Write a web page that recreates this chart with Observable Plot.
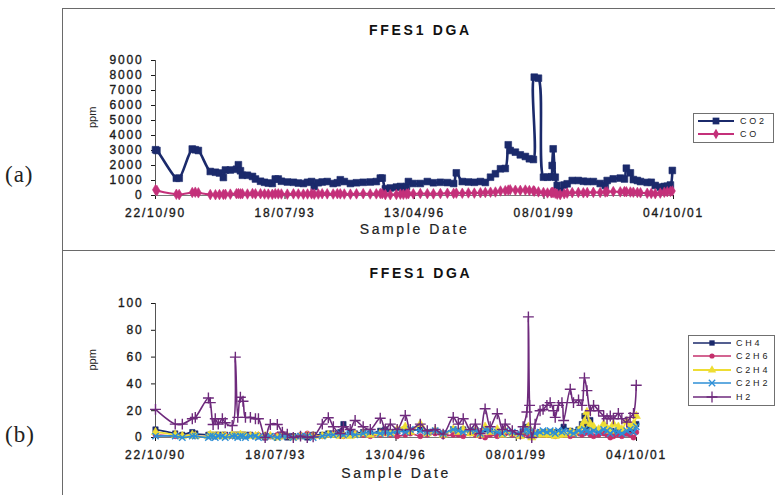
<!DOCTYPE html>
<html><head><meta charset="utf-8">
<script src="https://cdn.jsdelivr.net/npm/d3@7"></script>
<script src="https://cdn.jsdelivr.net/npm/@observablehq/plot@0.6"></script>
<style>
html,body{margin:0;padding:0;background:#fff;}
#page{position:relative;width:775px;height:495px;overflow:hidden;background:#fff;font-family:"Liberation Sans",Arial,sans-serif;}
.chart{position:absolute;left:62px;}
.chart svg{display:block;overflow:visible;}
.chart svg text{letter-spacing:1.8px;paint-order:stroke;stroke:#1a1a1a;stroke-width:0.35px;}
.frameline{position:absolute;background:#6a6a6a;}
.panel{position:absolute;left:5px;font-family:"Liberation Serif","Times New Roman",serif;font-size:23px;color:#222;letter-spacing:1px;line-height:1;}
.legend{position:absolute;border:1px solid #707070;background:#fff;box-sizing:border-box;}
.legend .row{position:absolute;left:0;height:12px;}
.legend .row svg{position:absolute;left:0;top:0;}
.legend .row span{position:absolute;top:0;font-size:9px;line-height:12px;letter-spacing:2.8px;color:#222;}
</style></head><body><div id="page"></div>
<script>
// ---------- data ----------
const axisStart = "1990-10-22", axisEnd = "2001-10-04";
const dateTicks = ["1990-10-22","1993-07-18","1996-04-13","1999-01-08","2001-10-04"];
const co2Ticks = [0,1000,2000,3000,4000,5000,6000,7000,8000,9000];
const gasTicks = [0,20,40,60,80,100];
const chartTitle = "FFES1 DGA";
const xLabel = "Sample Date";
const yLabel = "ppm";

// chart (a): CO2 and CO
const co2Dates = [
 "1990-10-22","1990-11-02","1991-04-01","1991-04-23","1991-08-02","1991-08-25","1991-09-18","1991-12-19","1992-01-28","1992-02-28",
 "1992-03-29","1992-04-14","1992-05-22","1992-07-08","1992-07-23","1992-08-08","1992-08-23","1992-10-01","1992-11-09","1992-12-02",
 "1993-01-10","1993-02-10","1993-03-11","1993-04-11","1993-05-04","1993-05-27","1993-06-20","1993-08-05","1993-09-21","1993-10-29",
 "1993-12-07","1994-01-08","1994-02-08","1994-03-01","1994-04-01","1994-05-01","1994-06-09","1994-07-25","1994-08-26","1994-09-18",
 "1994-10-19","1994-12-05","1995-01-21","1995-03-14","1995-05-07","1995-06-23","1995-07-24","1995-08-08","1995-09-01","1995-10-09",
 "1995-11-25","1995-12-26","1996-01-18","1996-02-11","1996-02-26","1996-04-04","1996-05-28","1996-07-21","1996-09-06","1996-10-30",
 "1996-12-23","1997-02-09","1997-03-02","1997-04-17","1997-06-03","1997-07-19","1997-09-04","1997-10-12","1997-11-21","1997-12-29",
 "1998-02-06","1998-03-15","1998-04-07","1998-04-22","1998-06-01","1998-07-09","1998-08-17","1998-09-17","1998-10-18","1998-10-25",
 "1998-11-26","1999-01-04","1999-02-04","1999-03-05","1999-03-12","1999-03-20","1999-04-05","1999-04-20","1999-05-13","1999-06-13",
 "1999-07-06","1999-08-14","1999-09-30","1999-11-08","1999-12-08","2000-01-24","2000-03-17","2000-04-25","2000-05-10","2000-06-26",
 "2000-08-19","2000-09-20","2000-10-05","2000-11-05","2000-11-28","2000-12-29","2001-01-22","2001-03-15","2001-04-15","2001-05-16",
 "2001-06-24","2001-07-25","2001-08-17","2001-09-10","2001-09-25"];
const co2Values = [
 3050,3000,1150,1150,3100,3050,3000,1600,1550,1500,
 1200,1700,1700,1750,2050,1650,1350,1350,1270,1100,
 950,880,830,800,1100,1100,950,900,880,830,
 800,880,930,600,850,900,930,800,850,1050,
 930,800,850,880,900,930,1160,1160,450,500,
 560,600,450,600,930,800,800,930,850,880,
 860,800,1510,930,900,880,930,870,1220,1450,
 1780,1800,3380,3000,2890,2710,2600,2450,2400,7890,
 7820,1220,1220,1250,2000,3110,1220,670,270,700,
 780,1000,1000,950,930,930,800,670,1000,1110,
 1160,1100,1820,1510,1060,1000,930,870,880,670,
 560,600,620,700,1670];
const coValues = [
 380,330,80,60,200,220,180,60,50,60,
 70,80,90,120,130,110,120,100,130,110,
 120,100,90,80,120,110,100,90,110,100,
 90,100,110,90,100,120,110,100,120,110,
 100,90,110,120,100,110,130,120,60,50,
 70,90,80,100,120,110,130,120,110,130,
 150,140,160,150,170,160,180,200,220,230,
 300,320,360,380,350,340,360,330,310,290,
 240,200,170,180,220,200,150,90,60,120,
 160,190,200,180,190,210,200,230,250,260,
 240,260,250,230,220,200,180,150,140,120,
 160,220,250,270,300];

// chart (b): CH4, C2H6, C2H4, C2H2, H2
const gasDates = [
 "1990-10-22","1991-04-04","1991-06-02","1991-08-24","1991-09-18","1992-01-05","1992-01-21","1992-02-13","1992-03-02","1992-03-27",
 "1992-04-30","1992-05-24","1992-07-21","1992-08-16","1992-09-05","1992-09-27","1992-10-19","1992-11-08","1992-12-19","1993-01-30",
 "1993-02-24","1993-04-21","1993-06-03","1993-07-31","1993-09-11","1993-10-22","1993-12-11","1994-02-09","1994-04-06","1994-05-25",
 "1994-08-09","1994-09-28","1994-11-09","1995-01-06","1995-02-01","1995-03-29","1995-05-09","1995-07-15","1995-09-12","1995-12-04",
 "1996-01-15","1996-02-26","1996-04-23","1996-06-29","1996-08-10","1996-11-01","1996-12-29","1997-03-05","1997-05-10","1997-08-02",
 "1997-09-13","1997-10-24","1997-12-21","1998-02-02","1998-03-14","1998-04-24","1998-06-05","1998-08-03","1998-09-14","1998-10-08",
 "1998-12-06","1999-02-11","1999-03-06","1999-04-06","1999-04-19","1999-04-29","1999-05-17","1999-06-14","1999-07-25","1999-08-19",
 "1999-09-20","1999-10-17","1999-11-14","1999-11-28","1999-12-25","2000-01-23","2000-02-06","2000-04-01","2000-04-28","2000-06-09",
 "2000-07-07","2000-07-28","2000-08-18","2000-09-15","2000-10-12","2000-11-23","2001-01-04","2001-02-01","2001-02-28","2001-03-26",
 "2001-05-06","2001-06-04","2001-07-15","2001-08-12","2001-09-09","2001-10-02"];
const ch4Values = [
 6,3,2,4,3,2,2,1,2,2,
 2,2,2,2,2,2,2,2,2,1,
 1,0,1,1,1,0,1,1,0,2,
 2,3,3,4,10,4,3,4,3,5,
 6,4,5,6,5,6,4,5,3,6,
 5,6,4,5,3,6,5,4,3,4,
 3,2,4,8,6,5,1,3,4,3,
 4,3,4,3,4,5,8,5,4,6,
 10,16,8,13,6,5,4,6,3,5,
 4,5,3,6,5,10];
const c2h6Values = [
 2,1,1,2,1,1,2,1,1,2,
 1,2,1,2,1,2,2,1,2,1,
 2,0,1,2,3,1,0,2,3,2,
 1,2,3,2,1,2,3,2,1,2,
 3,2,1,2,3,1,2,3,1,2,
 2,1,3,2,1,0,2,1,2,3,
 2,1,2,3,2,1,0,2,3,2,
 2,3,2,1,2,3,2,1,2,3,
 2,3,4,2,1,2,3,2,0,1,
 2,1,3,2,0,4];
const c2h4Values = [
 4,2,1,2,1,1,2,1,1,1,
 1,1,2,1,1,2,1,1,1,1,
 1,1,1,0,1,1,0,1,1,1,
 1,2,2,1,2,1,2,3,2,3,
 4,3,6,8,4,10,3,5,2,6,
 4,6,3,5,2,8,4,6,2,5,
 3,1,4,6,8,5,0,2,3,2,
 3,2,3,1,2,3,2,4,3,5,
 8,12,19,10,8,6,10,7,5,10,
 8,6,12,8,10,16];
const c2h2Values = [
 1,1,0,1,1,0,1,1,0,1,
 1,0,1,1,0,1,1,0,1,1,
 0,1,1,0,1,1,0,1,1,0,
 1,2,2,3,2,3,2,3,4,3,
 4,3,5,4,6,5,4,5,3,6,
 5,4,6,5,3,6,5,4,3,5,
 4,3,5,6,5,4,2,3,4,5,
 4,5,4,3,5,4,5,4,3,5,
 4,6,5,4,5,4,6,5,3,5,
 4,3,5,6,4,8];
const h2Values = [
 21,10,10,14,15,29.5,26,9.7,14,10,
 14,11,9,60,15,30,27,15,15,14,
 14,0,9.7,9.7,4,2.5,0,1,0,0.5,
 10,14.7,8,3,8,6,12.7,8,6,14.4,
 6,10,6,16.4,6,10,5,6,2.5,15,
 10,14,6,10,3,21.4,8,17.7,6,10,
 5,2.5,8,19,90,24,0,10,20,21,
 24,26,20,15,24,26,12.7,36,26,28,
 24,44.5,35,20,24,20,16,14,16,14,
 18,14,11.5,15,18,39];

// ---------- styles ----------
const topSeries = [
  {key:"CO2", color:"#1b2a6b", symbol:"square",  r:3.8, lw:2.6},
  {key:"CO",  color:"#c4307a", symbol:"diamond", r:3.2, lw:2}
];
const gasSeries = [
  {key:"CH4",  color:"#1b2a6b", symbol:"square",   r:3,   lw:1.7},
  {key:"C2H6", color:"#c4306c", symbol:"circle",   r:2.6, lw:1.7},
  {key:"C2H4", color:"#eedd33", symbol:"triangle", r:3.1, lw:1.8},
  {key:"C2H2", color:"#2e8fd6", symbol:"times",    r:3,   lw:1.7},
  {key:"H2",   color:"#6e2a7c", symbol:"plus",     r:3.6, lw:1.6}
];

const parse = d3.utcParse("%Y-%m-%d");
const fmt = d3.utcFormat("%d/%m/%y");
const x0 = parse(axisStart), x1 = parse(axisEnd);

const topRows = co2Dates.map((d, i) => ({date: parse(d), CO2: co2Values[i], CO: coValues[i]}));
const gasRows = gasDates.map((d, i) => ({date: parse(d), CH4: ch4Values[i], C2H6: c2h6Values[i],
  C2H4: c2h4Values[i], C2H2: c2h2Values[i], H2: h2Values[i]}));

const stroked = s => s === "plus" || s === "times";

function makeChart({rows, series, yTicks, width, height, ml, mr, mt, mb, titleDx, labelDy}) {
  const marks = [
    Plot.ruleY([0], {stroke: "#7a7a7a", strokeWidth: 1}),
    Plot.ruleX([x0], {stroke: "#555", strokeWidth: 1})
  ];
  for (const s of series) {
    marks.push(Plot.line(rows, {x: "date", y: s.key, stroke: s.color, strokeWidth: s.lw, curve: "catmull-rom"}));
    marks.push(Plot.dot(rows, Object.assign({x: "date", y: s.key, symbol: s.symbol, r: s.r},
      stroked(s.symbol) ? {stroke: s.color, strokeWidth: 1.4, fill: "none"} : {fill: s.color, stroke: s.color, strokeWidth: 0.6})));
  }
  marks.push(Plot.text([chartTitle], {text: d => d, frameAnchor: "top", dy: -35, dx: titleDx, fontWeight: "bold", fontSize: 14, fill: "#111"}));
  marks.push(Plot.text([yLabel], {text: d => d, frameAnchor: "left", dx: -63, rotate: -90, fontSize: 11, fill: "#222"}));
  marks.push(Plot.text([xLabel], {text: d => d, frameAnchor: "bottom", dy: labelDy, fontSize: 14, fill: "#222"}));
  const svg = Plot.plot({
    width, height, marginLeft: ml, marginRight: mr, marginTop: mt, marginBottom: mb,
    style: {fontFamily: '"Liberation Sans", Arial, sans-serif', fontSize: "12px", color: "#1a1a1a", background: "transparent"},
    x: {type: "utc", domain: [x0, x1], ticks: dateTicks.map(parse), tickFormat: fmt, tickSize: 4, tickPadding: 9, label: null},
    y: {domain: [yTicks[0], yTicks[yTicks.length - 1]], ticks: yTicks, tickFormat: d3.format("d"), tickSize: 4, tickPadding: 8, label: null},
    marks
  });
  d3.select(svg).selectAll("text").each(function () {
    const t = this.textContent;
    if (t === chartTitle) { this.style.letterSpacing = "2.7px"; this.style.strokeWidth = "0px"; }
    else if (t === xLabel) { this.style.letterSpacing = "2.6px"; this.style.strokeWidth = "0.2px"; }
    else if (t === yLabel) { this.style.letterSpacing = "0px"; this.style.strokeWidth = "0px"; }
  });
  return svg;
}

const page = d3.select("#page");

function place(svg, top) {
  page.append("div").attr("class", "chart").style("top", top + "px").node().appendChild(svg);
}

place(makeChart({rows: topRows, series: topSeries, yTicks: co2Ticks, width: 713, height: 240,
  ml: 93, mr: 102, mt: 50, mb: 55, titleDx: 6, labelDy: 38}), 10);
place(makeChart({rows: gasRows, series: gasSeries, yTicks: gasTicks, width: 713, height: 243,
  ml: 93, mr: 139, mt: 51, mb: 58, titleDx: 25, labelDy: 40}), 252);

// frame lines
page.append("div").attr("class", "frameline").style("left", "62px").style("top", "8px").style("width", "1px").style("height", "487px");
page.append("div").attr("class", "frameline").style("left", "62px").style("top", "8px").style("width", "713px").style("height", "1px");
page.append("div").attr("class", "frameline").style("left", "62px").style("top", "250px").style("width", "713px").style("height", "1px");

// panel letters
page.append("div").attr("class", "panel").style("top", "163px").text("(a)");
page.append("div").attr("class", "panel").style("top", "423px").text("(b)");

// legends
const symbolTypes = {square: d3.symbolSquare, diamond: d3.symbolDiamond, circle: d3.symbolCircle,
  triangle: d3.symbolTriangle, times: d3.symbolTimes, plus: d3.symbolPlus};

function legend(series, {left, top, width, rowH, pad, lineW, textX}) {
  const box = page.append("div").attr("class", "legend")
    .style("left", left + "px").style("top", top + "px")
    .style("width", width + "px").style("height", (pad * 2 + rowH * series.length) + "px");
  series.forEach((s, i) => {
    const row = box.append("div").attr("class", "row").style("top", (pad - 1 + i * rowH) + "px").style("width", width + "px");
    const sv = row.append("svg").attr("width", lineW + 8).attr("height", 12);
    sv.append("line").attr("x1", 4).attr("x2", 4 + lineW).attr("y1", 6).attr("y2", 6)
      .attr("stroke", s.color).attr("stroke-width", Math.min(s.lw, 1.8));
    const size = Math.PI * s.r * s.r;
    const p = sv.append("path").attr("transform", `translate(${4 + lineW / 2},6)`)
      .attr("d", d3.symbol(symbolTypes[s.symbol], size)());
    if (stroked(s.symbol)) p.attr("fill", "none").attr("stroke", s.color).attr("stroke-width", 1.3);
    else p.attr("fill", s.color);
    row.append("span").style("left", textX + "px").text(s.key);
  });
}
legend(topSeries, {left: 693, top: 113, width: 81, rowH: 13, pad: 2, lineW: 36, textX: 46});
legend(gasSeries, {left: 688, top: 335, width: 87, rowH: 13.4, pad: 2, lineW: 38, textX: 47});
</script></body></html>
